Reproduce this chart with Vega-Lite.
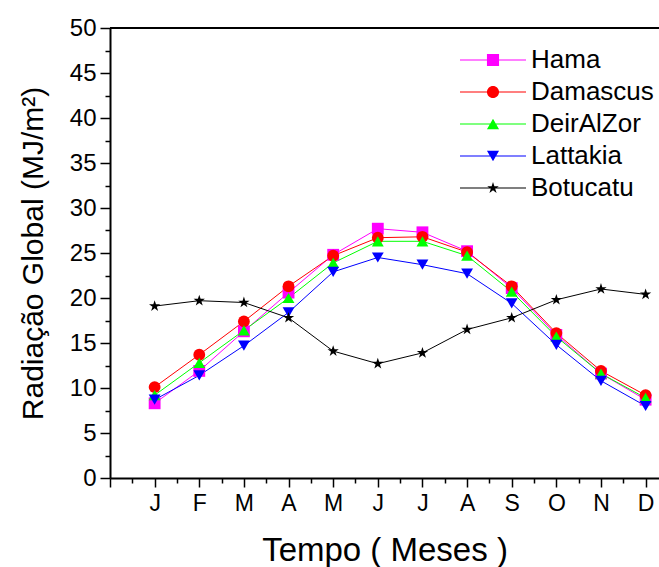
{
  "$schema": "https://vega.github.io/schema/vega-lite/v6.json",
  "width": 549,
  "height": 450,
  "autosize": {"type": "none"},
  "padding": {"left": 110, "top": 28, "right": 0, "bottom": 89},
  "background": "white",
  "config": {
    "view": {"stroke": null},
    "font": "Liberation Sans",
    "axis": {"grid": false, "domainColor": "black", "domainWidth": 2, "tickColor": "black", "tickWidth": 1.5, "labelColor": "black", "titleColor": "black", "titleFontWeight": "normal", "labelFont": "Liberation Sans", "titleFont": "Liberation Sans"}
  },
  "data": {
    "values": [
      {"m": 1, "city": "Hama", "v": 8.3}, {"m": 2, "city": "Hama", "v": 11.9}, {"m": 3, "city": "Hama", "v": 16.3}, {"m": 4, "city": "Hama", "v": 20.6}, {"m": 5, "city": "Hama", "v": 24.8}, {"m": 6, "city": "Hama", "v": 27.7}, {"m": 7, "city": "Hama", "v": 27.3}, {"m": 8, "city": "Hama", "v": 25.2}, {"m": 9, "city": "Hama", "v": 21.1}, {"m": 10, "city": "Hama", "v": 15.9}, {"m": 11, "city": "Hama", "v": 11.6}, {"m": 12, "city": "Hama", "v": 8.7},
      {"m": 1, "city": "Damascus", "v": 10.1}, {"m": 2, "city": "Damascus", "v": 13.7}, {"m": 3, "city": "Damascus", "v": 17.4}, {"m": 4, "city": "Damascus", "v": 21.3}, {"m": 5, "city": "Damascus", "v": 24.7}, {"m": 6, "city": "Damascus", "v": 26.7}, {"m": 7, "city": "Damascus", "v": 26.8}, {"m": 8, "city": "Damascus", "v": 25.1}, {"m": 9, "city": "Damascus", "v": 21.3}, {"m": 10, "city": "Damascus", "v": 16.1}, {"m": 11, "city": "Damascus", "v": 11.9}, {"m": 12, "city": "Damascus", "v": 9.2},
      {"m": 1, "city": "DeirAlZor", "v": 9.2}, {"m": 2, "city": "DeirAlZor", "v": 12.8}, {"m": 3, "city": "DeirAlZor", "v": 16.4}, {"m": 4, "city": "DeirAlZor", "v": 20.0}, {"m": 5, "city": "DeirAlZor", "v": 23.9}, {"m": 6, "city": "DeirAlZor", "v": 26.3}, {"m": 7, "city": "DeirAlZor", "v": 26.3}, {"m": 8, "city": "DeirAlZor", "v": 24.7}, {"m": 9, "city": "DeirAlZor", "v": 20.7}, {"m": 10, "city": "DeirAlZor", "v": 15.7}, {"m": 11, "city": "DeirAlZor", "v": 11.6}, {"m": 12, "city": "DeirAlZor", "v": 8.9},
      {"m": 1, "city": "Lattakia", "v": 8.7}, {"m": 2, "city": "Lattakia", "v": 11.4}, {"m": 3, "city": "Lattakia", "v": 14.7}, {"m": 4, "city": "Lattakia", "v": 18.4}, {"m": 5, "city": "Lattakia", "v": 22.9}, {"m": 6, "city": "Lattakia", "v": 24.5}, {"m": 7, "city": "Lattakia", "v": 23.7}, {"m": 8, "city": "Lattakia", "v": 22.7}, {"m": 9, "city": "Lattakia", "v": 19.4}, {"m": 10, "city": "Lattakia", "v": 14.8}, {"m": 11, "city": "Lattakia", "v": 10.8}, {"m": 12, "city": "Lattakia", "v": 8.0},
      {"m": 1, "city": "Botucatu", "v": 19.1}, {"m": 2, "city": "Botucatu", "v": 19.7}, {"m": 3, "city": "Botucatu", "v": 19.5}, {"m": 4, "city": "Botucatu", "v": 17.8}, {"m": 5, "city": "Botucatu", "v": 14.1}, {"m": 6, "city": "Botucatu", "v": 12.7}, {"m": 7, "city": "Botucatu", "v": 13.9}, {"m": 8, "city": "Botucatu", "v": 16.5}, {"m": 9, "city": "Botucatu", "v": 17.8}, {"m": 10, "city": "Botucatu", "v": 19.8}, {"m": 11, "city": "Botucatu", "v": 21.0}, {"m": 12, "city": "Botucatu", "v": 20.4}
    ]
  },
  "encoding": {
    "x": {
      "field": "m", "type": "quantitative",
      "scale": {"domain": [0, 12.3], "nice": false, "zero": false},
      "axis": {
        "values": [0, 0.5, 1, 1.5, 2, 2.5, 3, 3.5, 4, 4.5, 5, 5.5, 6, 6.5, 7, 7.5, 8, 8.5, 9, 9.5, 10, 10.5, 11, 11.5, 12],
        "labelExpr": "datum.value % 1 ? '' : ['', 'J', 'F', 'M', 'A', 'M', 'J', 'J', 'A', 'S', 'O', 'N', 'D'][datum.value]",
        "tickSize": {"condition": {"test": "datum.value % 1 !== 0", "value": 5}, "value": 9},
        "labelFontSize": 23, "labelPadding": 5, "labelFlush": false, "labelOverlap": false,
        "title": "Tempo ( Meses )", "titleFontSize": 33, "titlePadding": 19
      }
    },
    "y": {
      "field": "v", "type": "quantitative",
      "scale": {"domain": [0, 50], "nice": false},
      "axis": {
        "values": [0, 2.5, 5, 7.5, 10, 12.5, 15, 17.5, 20, 22.5, 25, 27.5, 30, 32.5, 35, 37.5, 40, 42.5, 45, 47.5, 50],
        "labelExpr": "datum.value % 5 ? '' : datum.label",
        "tickSize": {"condition": {"test": "datum.value % 5 !== 0", "value": 5}, "value": 10},
        "labelFontSize": 24, "labelPadding": 4, "labelFlush": false, "labelOverlap": false,
        "title": "Radiação Global (MJ/m²)", "titleFontSize": 30, "titlePadding": 21
      }
    },
    "color": {
      "field": "city", "type": "nominal",
      "scale": {"domain": ["Hama", "Damascus", "DeirAlZor", "Lattakia", "Botucatu"], "range": ["#FF00FF", "#FF0000", "#00FF00", "#0000FF", "#000000"]},
      "legend": {
        "orient": "none", "legendX": 370, "legendY": 19, "title": null, "padding": 0,
        "labelFontSize": 26, "labelFont": "Liberation Sans", "labelColor": "black",
        "symbolSize": 121, "labelOffset": 25, "rowPadding": 6, "symbolStrokeWidth": 0, "symbolOpacity": 1,
        "symbolType": {"expr": "datum.value === 'Hama' ? 'M-6,-0.09H6V0.09H-6ZM-1.1,-1.1H1.1V1.1H-1.1Z' : datum.value === 'Damascus' ? 'M-6,-0.09H6V0.09H-6ZM1.1,0A1.1,1.1,0,1,1,-1.1,0A1.1,1.1,0,1,1,1.1,0Z' : datum.value === 'DeirAlZor' ? 'M-6,-0.09H6V0.09H-6ZM0,-0.96L1.1,0.96L-1.1,0.96Z' : datum.value === 'Lattakia' ? 'M-6,-0.09H6V0.09H-6ZM0,0.96L-1.1,-0.96L1.1,-0.96Z' : 'M-6,-0.09H6V0.09H-6ZM0,-1.1L0.25,-0.34L1.05,-0.34L0.4,0.13L0.65,0.89L0,0.42L-0.65,0.89L-0.4,0.13L-1.05,-0.34L-0.25,-0.34Z'"}
      }
    }
  },
  "layer": [
    {
      "mark": {"type": "rule", "color": "black", "strokeWidth": 2},
      "encoding": {"y": {"datum": 50}, "x": {"datum": 0}, "x2": {"datum": 12.3}, "color": {"value": "black"}}
    },
    {
      "mark": {"type": "line", "strokeWidth": 1},
      "encoding": {
        "detail": {"field": "city"}
      }
    },
    {
      "mark": {"type": "point", "filled": true, "opacity": 1, "size": 140},
      "encoding": {
        "shape": {
          "field": "city", "type": "nominal",
          "scale": {"domain": ["Botucatu", "Hama", "Damascus", "DeirAlZor", "Lattakia"], "range": ["M0,-1L0.225,-0.309L0.951,-0.309L0.363,0.118L0.588,0.809L0,0.382L-0.588,0.809L-0.363,0.118L-0.951,-0.309L-0.225,-0.309Z", "square", "circle", "triangle-up", "triangle-down"]},
          "legend": null
        }
      }
    }
  ]
}
